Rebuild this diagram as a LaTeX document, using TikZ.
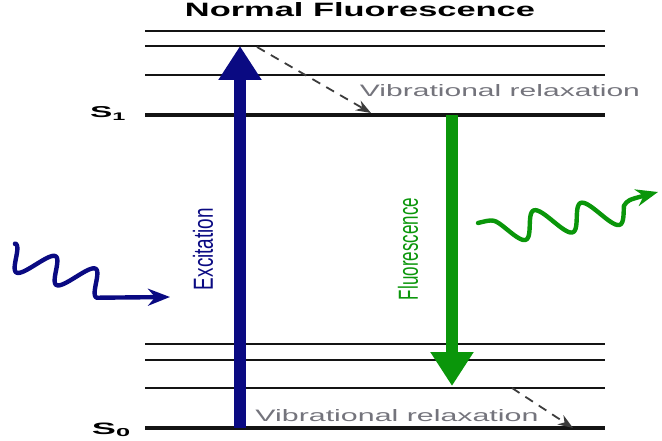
\documentclass[tikz,border=0pt]{standalone}
\usepackage{fontspec}
\setmainfont{Liberation Sans}
\usepackage{graphicx}
\usetikzlibrary{arrows.meta}
\definecolor{levelink}{HTML}{141414}
\definecolor{excblue}{HTML}{0A0A82}
\definecolor{fluogreen}{HTML}{0A960A}
\definecolor{relaxgray}{HTML}{74747C}
\definecolor{relaxink}{HTML}{3C3C3C}

\begin{document}
\begin{tikzpicture}[
  x=1pt,y=-1pt,
  every node/.style={inner sep=0pt,outer sep=0pt},
  level/.style={draw=levelink,line width=2.4pt},
  ground/.style={draw=levelink,line width=4.8pt},
  transition/.style={line width=11.5pt,-{Triangle[length=34pt,width=41pt]}},
  relax/.style={draw=relaxink,line width=1.8pt,dash pattern=on 9pt off 7pt,-{Stealth[length=15pt,width=11pt]}},
  photon/.style={line width=4.4pt,line cap=round,line join=round,-{Stealth[length=22pt,width=17pt]}}
]
\useasboundingbox (0,0) rectangle (662,441);
% energy levels
\foreach \y in {31,46,75,344,360,388}
  \draw[level] (145,\y) -- (605,\y);
\draw[ground] (145,115) -- (605,115);
\draw[ground] (145,428) -- (605,428);
% labels
\node (title) at (360,10) {\resizebox{350pt}{14pt}{\bfseries Normal Fluorescence}};
\node[anchor=base west] (s1) at (90,118) {\resizebox{37pt}{11pt}{\bfseries S\textsubscript{1}}};
\node[anchor=base west] (s0) at (92,434) {\resizebox{40pt}{11.5pt}{\bfseries S\textsubscript{0}}};
\node (relaxtop) at (500,91) {\textcolor{relaxgray}{\resizebox{280pt}{12pt}{Vibrational relaxation}}};
\node (relaxbot) at (397,416) {\textcolor{relaxgray}{\resizebox{283pt}{12pt}{Vibrational relaxation}}};
\node[rotate=90,text=excblue] (exclabel) at (203,249) {\resizebox{82pt}{20pt}{Excitation}};
\node[rotate=90,text=fluogreen] (fluolabel) at (408,249) {\resizebox{102pt}{20pt}{Fluorescence}};
% transitions
\coordinate (exc-start) at (240,428);
\coordinate (exc-end) at (240,46);
\coordinate (fluo-start) at (452,115);
\coordinate (fluo-end) at (452,386);
\draw[transition,excblue] (exc-start) -- (exc-end);
\draw[transition,fluogreen] (fluo-start) -- (fluo-end);
\coordinate (vr1-start) at (257,47);
\coordinate (vr1-end) at (371,113);
\coordinate (vr2-start) at (512,388);
\coordinate (vr2-end) at (573,428);
\draw[relax] (vr1-start) -- (vr1-end);
\draw[relax] (vr2-start) -- (vr2-end);
% photons
\coordinate (in-start) at (15,244);
\coordinate (in-end) at (170,297);
\coordinate (out-start) at (478,223);
\coordinate (out-end) at (658,192);
\draw[photon,excblue] (in-start) -- plot[domain=0:2.5,samples=120,variable=\s]
  ({6+40*\s+9*sin(90+360*\s)},{255+12.5*\s-11.5*sin(90+360*\s)}) -- (in-end);
\draw[photon,fluogreen] (out-start) .. controls (494,219) .. (506.25,228.85) -- plot[domain=0.5:3.05,samples=120,variable=\s]
  ({482.75+47*\s-7*sin(360*\s)},{232.6-7.5*\s-13*sin(360*\s)}) .. controls (628,200) .. (out-end);
\end{tikzpicture}
\end{document}
